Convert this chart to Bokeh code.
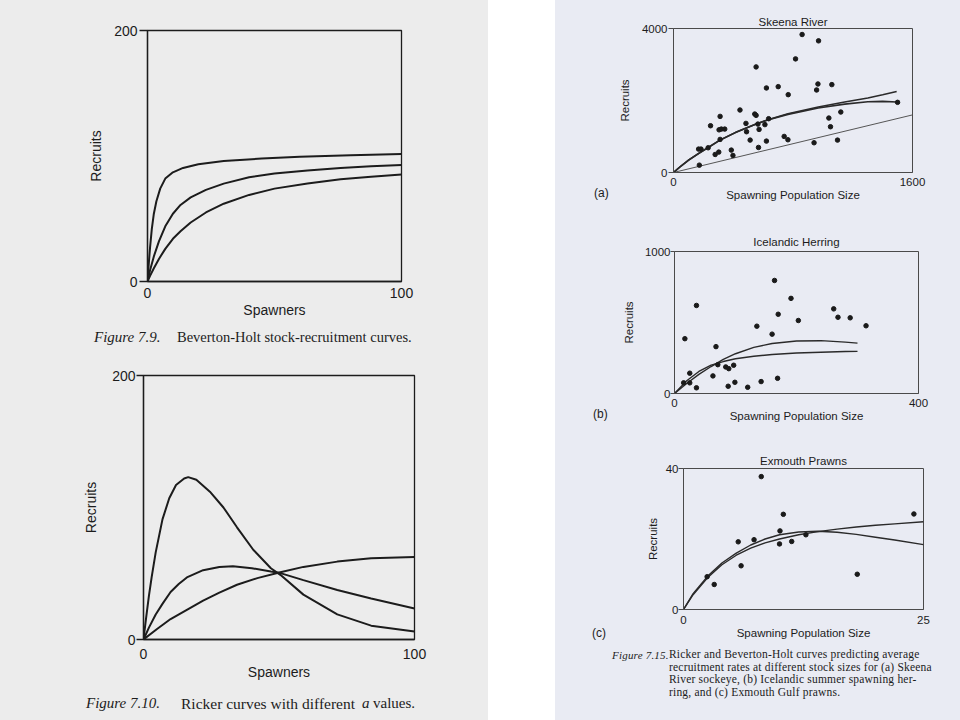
from bokeh.plotting import figure
from bokeh.layouts import row, column
from bokeh.models import Range1d, FixedTicker, Spacer, Div
from bokeh.embed import file_html
from bokeh.resources import INLINE

# ---------------- data ----------------
# Figure 7.9 Beverton-Holt curves (spawners 0-100, recruits 0-200)
bh1_spawners = [0, 0.5, 1, 1.7, 2.5, 3.5, 5, 7, 10, 14, 20, 30, 45, 60, 80, 100]
bh1_recruits = [0, 14, 27, 42, 54, 64, 74, 82, 87, 90.5, 93.5, 96, 98, 99.5, 100.5, 101.5]
bh2_spawners = [0, 1, 2.5, 4.5, 7, 10, 13, 17, 23, 30, 40, 50, 63, 76, 88, 100]
bh2_recruits = [0, 9, 20, 32, 44, 54, 61, 67, 73, 78, 83, 86, 88.5, 90.5, 91.8, 92.8]
bh3_spawners = [0, 1, 2.5, 4.5, 7, 10, 13, 17, 23, 30, 40, 50, 63, 76, 88, 100]
bh3_recruits = [0, 4.5, 10.5, 18, 26, 34, 40, 47, 55, 62, 69, 74, 78, 81.5, 83.5, 85.3]

# Figure 7.10 Ricker curves
rk1_spawners = [0, 1, 2, 3, 4.5, 7, 9.5, 12, 15, 16.5, 19.5, 24.5, 29.5, 34.5, 40.5, 47, 50.5, 59, 71.5, 84, 100]
rk1_recruits = [0, 17, 33, 47, 66, 91, 107, 117, 122, 123, 121, 112, 100, 85, 68, 54, 49, 34, 19, 10.5, 6]
rk2_spawners = [0, 2, 4.5, 7, 10, 13, 16, 22, 28, 33, 40, 47, 50.5, 59, 71.5, 84, 100]
rk2_recruits = [0, 9, 19, 27, 36, 42, 47, 52.5, 55, 55.5, 54, 51.5, 50.3, 45, 37.5, 31, 23.5]
rk3_spawners = [0, 5, 10, 16, 22, 28, 34.5, 42, 50.5, 59, 71.5, 84, 100]
rk3_recruits = [0, 8, 15.5, 22.5, 29.5, 35.5, 41.5, 46.5, 51, 55, 59, 61.5, 62.5]

# Figure 7.15 (a) Skeena River
skeena_spawners = [861, 971, 817, 553, 622, 701, 967, 1060, 958, 768, 1500, 445, 1120, 544, 553,
                   312, 1040, 637, 485, 565, 612, 248, 1051, 305, 320, 343, 573, 489, 312, 741,
                   766, 513, 622, 1098, 941, 569, 168, 184, 232, 387, 303, 279, 398, 173]
skeena_recruits = [3833, 3657, 3156, 2933, 2348, 2385, 2459, 2441, 2292, 2162, 1949, 1736, 1680, 1624, 1587,
                   1559, 1513, 1494, 1364, 1345, 1330, 1299, 1271, 1185, 1206, 1206, 1197, 1132, 919, 1002,
                   910, 900, 872, 900, 826, 696, 650, 650, 687, 622, 566, 501, 473, 204]
skeena_curve_s = [0, 50, 100, 170, 240, 312, 416, 553, 637, 766, 969, 1146, 1301, 1400, 1494]
skeena_bh = [0, 175, 340, 530, 710, 900, 1110, 1350, 1470, 1630, 1820, 1960, 2070, 2160, 2250]
skeena_ricker = [0, 180, 345, 535, 715, 905, 1115, 1350, 1465, 1615, 1790, 1900, 1965, 1975, 1958]
skeena_replacement_s = [0, 1600]
skeena_replacement_r = [0, 1600]

# Figure 7.15 (b) Icelandic Herring
herring_spawners = [164, 36, 191, 261, 170, 268, 288, 203, 314, 135, 160, 17, 68, 71, 84, 89, 97,
                    25, 63, 169, 142, 99, 15, 25, 88, 120, 36]
herring_recruits = [796, 620, 670, 596, 558, 537, 533, 514, 477, 474, 418, 386, 330, 203, 187, 175, 199,
                    143, 124, 107, 84, 79, 75, 75, 51, 44, 40]
herring_curve_s = [0, 20, 40, 60, 80, 100, 130, 160, 200, 240, 280, 300]
herring_ricker = [0, 70, 135, 190, 240, 280, 325, 352, 370, 372, 362, 355]
herring_bh = [0, 90, 155, 200, 225, 245, 262, 275, 285, 291, 296, 297]

# Figure 7.15 (c) Exmouth Prawns
prawn_spawners = [8.1, 10.4, 24.0, 10.05, 5.7, 7.35, 10.0, 11.27, 12.75, 6.0, 18.1, 2.46, 3.2]
prawn_recruits = [37.7, 27.0, 27.1, 22.3, 19.2, 19.8, 18.6, 19.3, 21.2, 12.4, 10.0, 9.3, 7.1]
prawn_curve_s = [0, 1, 2.5, 4, 5.5, 7, 8.5, 10, 12, 14, 16, 18, 20, 22, 25]
prawn_ricker = [0, 4.5, 9.4, 13.2, 16.0, 18.3, 20.0, 21.2, 22.0, 22.2, 21.9, 21.3, 20.5, 19.7, 18.4]
prawn_bh = [0, 4.2, 9.0, 12.7, 15.4, 17.4, 18.9, 20.0, 21.2, 22.1, 22.8, 23.4, 23.9, 24.3, 24.9]

# ---------------- styling ----------------
LEFT_BG = "#ececec"
RIGHT_BG = "#e9ebf3"
INK = "#1c1c1c"
FR = "#4a4a4a"
SANS = "Liberation Sans"
SERIF = "Liberation Serif"


def make_fig(fw, fh, bl, br, bt, bb, xr, yr, xt, yt, bg, fpx, xlabel, ylabel,
             ytick_out, ylab_standoff, xlab_standoff, yaxis_standoff, xaxis_standoff,
             frame_color, frame_w, title=None, title_standoff=2):
    p = figure(width=bl + fw + br, height=bt + fh + bb, min_border_left=bl, min_border_right=br,
               min_border_top=bt, min_border_bottom=bb,
               x_range=Range1d(*xr), y_range=Range1d(*yr),
               output_backend="svg", toolbar_location=None, title=title)
    p.background_fill_color = bg
    p.border_fill_color = bg
    p.outline_line_color = frame_color
    p.outline_line_width = frame_w
    p.xgrid.visible = False
    p.ygrid.visible = False
    if title is not None:
        p.title.text_font = SANS
        p.title.text_font_style = "normal"
        p.title.text_font_size = f"{fpx}px"
        p.title.text_color = INK
        p.title.align = "center"
        p.title.standoff = title_standoff
    for ax, ticks, lab in ((p.xaxis[0], xt, xlabel), (p.yaxis[0], yt, ylabel)):
        ax.ticker = FixedTicker(ticks=ticks)
        ax.minor_tick_line_color = None
        ax.major_tick_in = 0
        ax.major_label_text_font = SANS
        ax.major_label_text_font_size = f"{fpx}px"
        ax.major_label_text_color = INK
        ax.axis_label = lab
        ax.axis_label_text_font = SANS
        ax.axis_label_text_font_style = "normal"
        ax.axis_label_text_font_size = f"{fpx}px"
        ax.axis_label_text_color = INK
        ax.axis_line_color = frame_color
        ax.axis_line_width = frame_w
        ax.major_tick_line_color = frame_color
        ax.major_tick_line_width = frame_w
    p.xaxis[0].major_tick_out = 0
    p.xaxis[0].major_label_standoff = xlab_standoff
    p.xaxis[0].axis_label_standoff = xaxis_standoff
    p.yaxis[0].major_tick_out = ytick_out
    p.yaxis[0].major_label_standoff = ylab_standoff
    p.yaxis[0].axis_label_standoff = yaxis_standoff
    return p


def text_div(w, h, bg, items, font=SERIF, extra=""):
    spans = []
    for left, top, txt, size, style in items:
        spans.append(
            f'<span style="position:absolute;left:{left}px;top:{top}px;white-space:nowrap;'
            f'font-family:\'{font}\';font-size:{size}px;font-style:{style};line-height:1;'
            f'color:{INK};{extra}">{txt}</span>')
    html = (f'<div style="position:relative;width:{w}px;height:{h}px;">' + "".join(spans) + '</div>')
    return Div(text=html, width=w, height=h, styles={"background-color": bg, "margin": "0", "padding": "0"})


def pad(w, h, bg):
    return Spacer(width=w, height=h, styles={"background-color": bg})


# ---------------- Figure 7.9 ----------------
f79 = make_fig(254, 251, 135, 60, 30, 45, (0, 100), (0, 200), [0, 100], [0, 200], LEFT_BG, 14,
               "Spawners", "Recruits", 8, 2, 6, 7, 1, INK, 1.3)
for s, r in ((bh1_spawners, bh1_recruits), (bh2_spawners, bh2_recruits), (bh3_spawners, bh3_recruits)):
    f79.line(s, r, line_color=INK, line_width=2)

cap79 = text_div(488, 26, LEFT_BG, [(94, 4, "Figure 7.9.", 15, "italic"),
                                    (177, 4, "Beverton-Holt stock-recruitment curves.", 14.5, "normal")])

# ---------------- Figure 7.10 ----------------
f710 = make_fig(271, 264, 135, 60, 23, 51, (0, 100), (0, 200), [0, 100], [0, 200], LEFT_BG, 14,
                "Spawners", "Recruits", 7, 1, 9, 10, 2, INK, 1.3)
for s, r in ((rk1_spawners, rk1_recruits), (rk2_spawners, rk2_recruits), (rk3_spawners, rk3_recruits)):
    f710.line(s, r, line_color=INK, line_width=2)

cap710 = text_div(488, 30, LEFT_BG, [(86, 6, "Figure 7.10.", 15, "italic"),
                                     (181, 6, "Ricker curves with different", 15.5, "normal"),
                                     (362, 6, "a", 15, "italic"),
                                     (373, 6, "values.", 15, "normal")])

# ---------------- Figure 7.15 (a) ----------------
BL_R = 57
fa = make_fig(240, 144, BL_R, 37, 28, 53, (0, 1600), (0, 4000), [0, 1600], [0, 4000], RIGHT_BG, 11.5,
              "Spawning Population Size", "Recruits", 5, 1, 5, 8, 0, FR, 1, title="Skeena River",
              title_standoff=2)
fa.line(skeena_replacement_s, skeena_replacement_r, line_color="#555555", line_width=1)
fa.line(skeena_curve_s, skeena_bh, line_color="#2a2a2a", line_width=1.6)
fa.line(skeena_curve_s, skeena_ricker, line_color="#2a2a2a", line_width=1.6)
fa.scatter(skeena_spawners, skeena_recruits, size=4.5, color="#1a1a1a")
lab_a = text_div(60, 225, RIGHT_BG, [(39, 187, "(a)", 12, "normal")], font=SANS)

# ---------------- Figure 7.15 (b) ----------------
fb = make_fig(244, 142, BL_R, 37, 26, 47, (0, 400), (0, 1000), [0, 400], [0, 1000], RIGHT_BG, 11.5,
              "Spawning Population Size", "Recruits", 4, 0, 5, 7, 0, FR, 1, title="Icelandic Herring",
              title_standoff=8)
fb.line(herring_curve_s, herring_ricker, line_color="#2a2a2a", line_width=1.4)
fb.line(herring_curve_s, herring_bh, line_color="#2a2a2a", line_width=1.4)
fb.scatter(herring_spawners, herring_recruits, size=4.5, color="#1a1a1a")
lab_b = text_div(62, 215, RIGHT_BG, [(38, 183, "(b)", 12, "normal")], font=SANS)

# ---------------- Figure 7.15 (c) ----------------
fc = make_fig(240, 141, BL_R, 37, 28, 36, (0, 25), (0, 40), [0, 25], [0, 40], RIGHT_BG, 11.5,
              "Spawning Population Size", "Recruits", 5, 0, 6, 4, 0, FR, 1, title="Exmouth Prawns",
              title_standoff=4)
fc.line(prawn_curve_s, prawn_ricker, line_color="#2a2a2a", line_width=1.4)
fc.line(prawn_curve_s, prawn_bh, line_color="#2a2a2a", line_width=1.4)
fc.scatter(prawn_spawners, prawn_recruits, size=4.5, color="#1a1a1a")
lab_c = text_div(71, 205, RIGHT_BG, [(37, 187, "(c)", 12, "normal")], font=SANS)

cap715 = text_div(405, 75, RIGHT_BG, [
    (57, 5, "Figure 7.15.", 11, "italic"),
    (114, 4, "Ricker and Beverton-Holt curves predicting average", 11.5, "normal"),
    (114, 16.5, "recruitment rates at different stock sizes for (a) Skeena", 11.5, "normal"),
    (114, 29, "River sockeye, (b) Icelandic summer spawning her-", 11.5, "normal"),
    (114, 41.5, "ring, and (c) Exmouth Gulf prawns.", 11.5, "normal"),
], extra="letter-spacing:0.2px;")

left_col = column(
    row(pad(12, 326, LEFT_BG), f79, pad(488 - 12 - 449, 326, LEFT_BG), spacing=0),
    cap79,
    row(pad(8, 338, LEFT_BG), f710, pad(488 - 8 - 466, 338, LEFT_BG), spacing=0),
    cap710,
    spacing=0, styles={"background-color": LEFT_BG})

right_col = column(
    row(lab_a, fa, pad(405 - 60 - 334, 225, RIGHT_BG), spacing=0),
    row(lab_b, fb, pad(405 - 62 - 338, 215, RIGHT_BG), spacing=0),
    row(lab_c, fc, spacing=0),
    cap715,
    spacing=0, styles={"background-color": RIGHT_BG})

layout = row(left_col, Spacer(width=67, height=720), right_col, spacing=0)

open("out.html", "w").write(file_html(layout, INLINE))
